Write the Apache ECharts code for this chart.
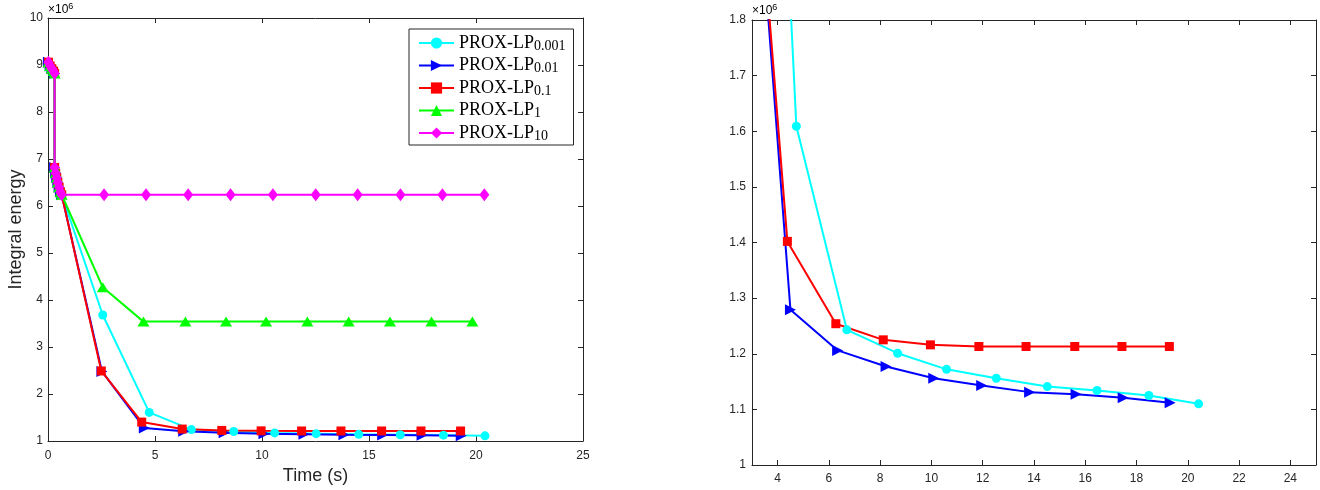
<!DOCTYPE html>
<html>
<head>
<meta charset="utf-8">
<script src="https://cdn.jsdelivr.net/npm/echarts@6.0.0/dist/echarts.min.js"></script>
<style>
  html, body { margin: 0; padding: 0; background: #fff; }
  #chart { width: 1320px; height: 490px; }
</style>
</head>
<body>
<div id="chart"></div>
<script>
// Integral energy (in units of 10^6) versus run time (s) for PROX-LP with
// different step parameters. All runs share the same start-up iterations.
const seriesNames = ['PROX-LP0.001', 'PROX-LP0.01', 'PROX-LP0.1', 'PROX-LP1', 'PROX-LP10'];
const seriesColors = ['#00FFFF', '#0000FF', '#FF0000', '#00FF00', '#FF00FF'];

const startTime   = [0.02, 0.10, 0.18, 0.26, 0.31, 0.31, 0.36, 0.41, 0.46, 0.52, 0.58, 0.64];
const startEnergy = [9.06, 8.98, 8.92, 8.87, 8.82, 6.82, 6.70, 6.60, 6.50, 6.40, 6.30, 6.24];

const timeLp0001   = [2.56, 4.73, 6.70, 8.68, 10.59, 12.53, 14.52, 16.46, 18.48, 20.42];
const energyLp0001 = [3.68, 1.609, 1.243, 1.201, 1.172, 1.156, 1.141, 1.134, 1.125, 1.110];

const timeLp001    = [2.52, 4.50, 6.34, 8.23, 10.09, 11.96, 13.83, 15.64, 17.48, 19.31];
const energyLp001  = [2.48, 1.279, 1.206, 1.177, 1.156, 1.143, 1.131, 1.127, 1.121, 1.112];

const timeLp01     = [2.49, 4.38, 6.27, 8.12, 9.96, 11.85, 13.69, 15.59, 17.43, 19.28];
const energyLp01   = [2.49, 1.402, 1.254, 1.225, 1.216, 1.213, 1.213, 1.213, 1.213, 1.213];

const timeLp1      = [2.56, 4.46, 6.42, 8.32, 10.19, 12.12, 14.05, 15.98, 17.92, 19.83];
const energyLp1    = [4.27, 3.54, 3.54, 3.54, 3.54, 3.54, 3.54, 3.54, 3.54, 3.54];

const timeLp10     = [2.62, 4.58, 6.55, 8.53, 10.51, 12.51, 14.47, 16.47, 18.43, 20.39];
const energyLp10   = [6.24, 6.24, 6.24, 6.24, 6.24, 6.24, 6.24, 6.24, 6.24, 6.24];

const runTimes    = [timeLp0001, timeLp001, timeLp01, timeLp1, timeLp10];
const runEnergies = [energyLp0001, energyLp001, energyLp01, energyLp1, energyLp10];

// Tick positions of the detail view's time axis
const detailTimeTicks = [4, 6, 8, 10, 12, 14, 16, 18, 20, 22, 24];

const AX = '#262626';
const TICK_FONT = 'Liberation Sans, Arial, sans-serif';
const LEGEND_FONT = 'Liberation Serif, Times New Roman, serif';

function pairs(ts, es) {
  return ts.map((t, i) => [t, es[i]]);
}
function runData(k) {
  return pairs(startTime, startEnergy).concat(pairs(runTimes[k], runEnergies[k]));
}

const markers = [
  { symbol: 'circle',   size: 9,        rotate: 0 },
  { symbol: 'triangle', size: [11, 11], rotate: -90 },
  { symbol: 'rect',     size: 9,        rotate: 0 },
  { symbol: 'triangle', size: [12, 10], rotate: 0 },
  { symbol: 'diamond',  size: [10, 13], rotate: 0 }
];

function axisCommon(extra) {
  return Object.assign({
    type: 'value',
    axisLine: { show: true, onZero: false, lineStyle: { color: AX, width: 1 } },
    axisTick: { show: true, inside: true, length: 5, lineStyle: { color: AX, width: 1 } },
    axisLabel: { show: true, color: AX, fontSize: 12, fontFamily: TICK_FONT },
    splitLine: { show: false }
  }, extra);
}

const xAxes = [
  axisCommon({
    gridIndex: 0, position: 'bottom', min: 0, max: 25, interval: 5,
    axisLabel: { color: AX, fontSize: 12, fontFamily: TICK_FONT, margin: 9 },
    name: 'Time (s)', nameLocation: 'middle', nameGap: 24,
    nameTextStyle: { color: AX, fontSize: 18, fontFamily: TICK_FONT }
  }),
  axisCommon({
    gridIndex: 0, position: 'top', min: 0, max: 25, interval: 5,
    axisLabel: { show: false }
  }),
  axisCommon({
    gridIndex: 1, position: 'bottom', min: 3, max: 25,
    axisTick: { show: true, inside: true, length: 5, lineStyle: { color: AX }, customValues: detailTimeTicks },
    axisLabel: { color: AX, fontSize: 12, fontFamily: TICK_FONT, margin: 8, customValues: detailTimeTicks }
  }),
  axisCommon({
    gridIndex: 1, position: 'top', min: 3, max: 25,
    axisTick: { show: true, inside: true, length: 5, lineStyle: { color: AX }, customValues: detailTimeTicks },
    axisLabel: { show: false }
  })
];

const yAxes = [
  axisCommon({
    gridIndex: 0, position: 'left', min: 1, max: 10, interval: 1,
    axisLabel: { color: AX, fontSize: 12, fontFamily: TICK_FONT, margin: 5 },
    name: 'Integral energy', nameLocation: 'middle', nameGap: 23,
    nameTextStyle: { color: AX, fontSize: 18, fontFamily: TICK_FONT }
  }),
  axisCommon({
    gridIndex: 0, position: 'right', min: 1, max: 10, interval: 1,
    axisLabel: { show: false }
  }),
  axisCommon({
    gridIndex: 1, position: 'left', min: 1, max: 1.8, interval: 0.1,
    axisLabel: {
      color: AX, fontSize: 12, fontFamily: TICK_FONT, margin: 6,
      formatter: v => String(+v.toFixed(1))
    }
  }),
  axisCommon({
    gridIndex: 1, position: 'right', min: 1, max: 1.8, interval: 0.1,
    axisLabel: { show: false }
  })
];

function lineSeries(k, xi, yi) {
  const m = markers[k];
  return {
    type: 'line',
    name: seriesNames[k],
    xAxisIndex: xi,
    yAxisIndex: yi,
    data: runData(k),
    clip: true,
    showSymbol: true,
    showAllSymbol: true,
    symbol: m.symbol,
    symbolSize: m.size,
    symbolRotate: m.rotate,
    lineStyle: { color: seriesColors[k], width: 2 },
    itemStyle: { color: seriesColors[k], borderWidth: 0 },
    emphasis: { disabled: true },
    silent: true
  };
}

const series = [];
for (let k = 0; k < seriesNames.length; k++) series.push(lineSeries(k, 0, 0));
// Detail view: only the runs that reach the low-energy range
for (let k = 0; k < 3; k++) series.push(lineSeries(k, 2, 2));

const expRich = {
  a: { fontSize: 12, lineHeight: 16, fontFamily: TICK_FONT, color: AX },
  b: { fontSize: 9, lineHeight: 9, verticalAlign: 'top', fontFamily: TICK_FONT, color: AX }
};

const option = {
  animation: false,
  backgroundColor: '#fff',
  grid: [
    { left: 48, top: 18, width: 535, height: 423 },
    { left: 752, top: 20, width: 564, height: 445 }
  ],
  xAxis: xAxes,
  yAxis: yAxes,
  legend: {
    data: seriesNames,
    orient: 'vertical',
    left: 409,
    top: 29,
    padding: [5, 8, 2, 9],
    itemGap: 3.5,
    itemWidth: 35,
    itemHeight: 14,
    backgroundColor: '#fff',
    borderColor: AX,
    borderWidth: 1,
    borderRadius: 0,
    selectedMode: false,
    formatter: name => '{n|PROX-LP}{s|' + name.slice(7) + '}',
    textStyle: {
      color: '#000',
      rich: {
        n: { fontFamily: LEGEND_FONT, fontSize: 18, lineHeight: 20, color: '#000' },
        s: { fontFamily: LEGEND_FONT, fontSize: 14, lineHeight: 12, verticalAlign: 'bottom', color: '#000' }
      }
    }
  },
  graphic: [
    { type: 'text', left: 48, top: 2, silent: true, style: { text: '{a|×10}{b|6}', rich: expRich } },
    { type: 'text', left: 752, top: 3, silent: true, style: { text: '{a|×10}{b|6}', rich: expRich } }
  ],
  series: series
};

const chart = echarts.init(document.getElementById('chart'), null, { renderer: 'canvas' });
chart.setOption(option);
</script>
</body>
</html>
